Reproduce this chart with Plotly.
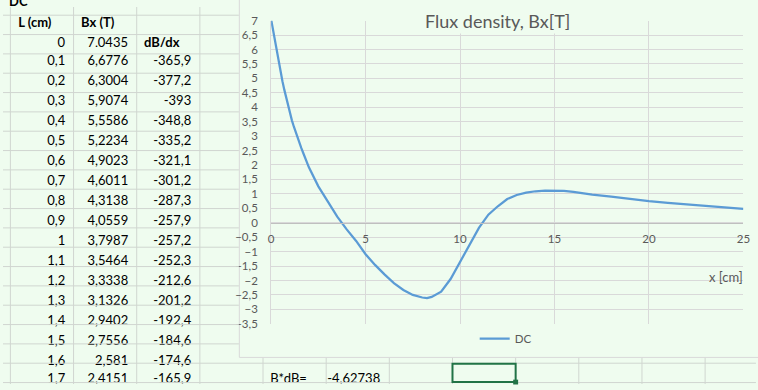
import plotly.graph_objects as go

# ---------------- data ----------------
L_cm = [0, 0.1, 0.2, 0.3, 0.4, 0.5, 0.6, 0.7, 0.8, 0.9, 1.0, 1.1, 1.2, 1.3, 1.4, 1.5, 1.6, 1.7]
Bx_T = [7.0435, 6.6776, 6.3004, 5.9074, 5.5586, 5.2234, 4.9023, 4.6011, 4.3138, 4.0559,
        3.7987, 3.5464, 3.3338, 3.1326, 2.9402, 2.7556, 2.581, 2.4151]
dB_dx = [None, -365.9, -377.2, -393, -348.8, -335.2, -321.1, -301.2, -287.3, -257.9,
         -257.2, -252.3, -212.6, -201.2, -192.4, -184.6, -174.6, -165.9]
B_dB = -4.62738

# curve beyond the table
x_more = [2.0, 2.5, 3.0, 3.5, 4.0, 4.5, 5.0, 5.5, 6.0, 6.5, 7.0, 7.5, 8.0, 8.25, 8.5, 9.0,
          9.5, 10.0, 10.5, 11.0, 11.5, 12.0, 12.5, 13.0, 13.5, 14.0, 14.5, 15.0, 15.5,
          16.0, 17.0, 18.0, 19.0, 20.0, 21.0, 22.0, 23.0, 24.0, 25.0]
B_more = [1.92, 1.26, 0.71, 0.21, -0.23, -0.63, -1.09, -1.46, -1.79, -2.09, -2.33, -2.50,
          -2.59, -2.61, -2.57, -2.39, -1.95, -1.36, -0.75, -0.18, 0.28, 0.57, 0.82, 0.96,
          1.04, 1.09, 1.11, 1.11, 1.10, 1.07, 0.97, 0.90, 0.82, 0.75, 0.69, 0.64, 0.58,
          0.53, 0.48]

series_name = "DC"
chart_title = "Flux density, Bx[T]"
x_title = "x [cm]"
col_heads = ["L (cm)", "Bx (T)", "", ""]
deriv_head = "dB/dx"
prod_label = "B*dB="

# ---------------- styling ----------------
W, H = 758, 390
BG = "#effcef"
GRID = "#d0d6d0"
CGRID = "#d9d9d9"
TXT = "#595959"
FONT = "Lato"
CELLSIZE = 13
BLUE = "#5b9bd5"
S = 6          # lift of the cell text inside the spreadsheet rows
CLEAR = "rgba(0,0,0,0)"
NOLINE = dict(color=CLEAR, width=0)


def fx(p):
    return p / W


def fy(p):
    return 1 - p / H


def fmt(v):
    if v is None:
        return ""
    return ("%g" % v).replace(".", ",")


def cellfont(weight="normal"):
    return dict(family=FONT, size=CELLSIZE, color="black", weight=weight)


LINE = dict(color=GRID, width=1)

fig = go.Figure()

# curve
fig.add_trace(go.Scatter(x=L_cm + x_more, y=Bx_T + B_more, mode="lines", name=series_name,
                         line=dict(color=BLUE, width=2.25), showlegend=True))

# header row + row 0
fig.add_trace(go.Table(
    domain=dict(x=[fx(7.3), fx(239.3)], y=[fy(48 - S), fy(8 - S)]),
    columnwidth=[64, 64, 64, 40],
    header=dict(values=col_heads, height=20, align="left", fill_color=CLEAR, line=NOLINE,
                font=cellfont("bold")),
    cells=dict(values=[[fmt(L_cm[0])], [fmt(Bx_T[0])], [deriv_head], [""]], height=20,
               align=["right", "right", "left", "right"], fill_color=CLEAR, line=NOLINE,
               font=dict(family=FONT, size=CELLSIZE, color="black",
                         weight=["normal", "normal", "bold", "normal"])),
))

# rows 0.1 .. 1.6 (plus an empty spacer row)
rows = range(1, len(L_cm) - 1)
colA = [fmt(L_cm[i]) for i in rows] + [""]
colB = [fmt(Bx_T[i]) for i in rows] + [""]
colC = [fmt(dB_dx[i]) for i in rows] + [""]
fig.add_trace(go.Table(
    domain=dict(x=[fx(7.3), fx(199.3)], y=[fy(388 - S), fy(48 - S)]),
    columnwidth=[64, 64, 64],
    header=dict(values=[colA[0], colB[0], colC[0]], height=20, align="right",
                fill_color=CLEAR, line=NOLINE, font=cellfont()),
    cells=dict(values=[colA[1:], colB[1:], colC[1:]], height=20, align="right",
               fill_color=CLEAR, line=NOLINE, font=cellfont()),
))

# last row: 1.7 and the product cells (columns A..F)
last_vals = [fmt(L_cm[-1]), fmt(Bx_T[-1]), fmt(dB_dx[-1]), "", prod_label, fmt(B_dB)]
fig.add_trace(go.Table(
    domain=dict(x=[fx(7.3), fx(391.3)], y=[0, fy(371)]),
    columnwidth=[64] * 6,
    header=dict(values=last_vals, height=19,
                align=["right", "right", "right", "left", "left", "right"],
                fill_color=CLEAR, line=NOLINE, font=cellfont()),
    cells=dict(values=[[] for _ in last_vals], height=19, fill_color=CLEAR, line=NOLINE),
))

# chart axes
yd = [fy(327.7), fy(14.1)]
fig.update_layout(
    width=W, height=H, autosize=False,
    margin=dict(l=0, r=0, t=0, b=0),
    paper_bgcolor=BG, plot_bgcolor="rgba(0,0,0,0)",
    separators=", ",
    font=dict(family=FONT, size=11.5, color=TXT),
    xaxis=dict(domain=[fx(271.7), fx(750.3)], range=[0, 25], dtick=5, tick0=0,
               showgrid=True, gridcolor=CGRID, gridwidth=1, zeroline=False,
               showline=True, linecolor="#bfbfbf", linewidth=1,
               anchor="free", position=yd[0] + (yd[1] - yd[0]) * 3.5 / 10.5,
               ticks="", ticklabelstandoff=5,
               tickfont=dict(family=FONT, size=11.5, color=TXT), fixedrange=True),
    yaxis=dict(domain=yd, range=[-3.5, 7], dtick=0.5, tick0=0,
               showgrid=True, gridcolor=CGRID, gridwidth=1, zeroline=False,
               showline=True, linecolor=CGRID, linewidth=1,
               ticks="", ticklabelstandoff=10,
               tickfont=dict(family=FONT, size=11.5, color=TXT), fixedrange=True),
    showlegend=True,
    legend=dict(orientation="h", x=fx(478), y=fy(343), xanchor="left", yanchor="middle",
                bgcolor="rgba(0,0,0,0)", font=dict(family=FONT, size=11.5, color=TXT)),
)

shapes = []
# chart area
shapes.append(dict(type="rect", xref="paper", yref="paper", x0=fx(239.5), x1=1.02,
                   y0=fy(362.5), y1=1.02, fillcolor=BG, line=dict(color=CGRID, width=1),
                   layer="below"))
# spreadsheet grid (drawn above the text tables, outside the chart area)
for k in range(20):
    py = 8.5 + 20 * k
    x1 = 239.0 if py < 362 else W + 5
    shapes.append(dict(type="line", xref="paper", yref="paper", x0=0, x1=fx(x1),
                       y0=fy(py), y1=fy(py), line=LINE, layer="above"))
for px in [7.5, 71.5, 135.5, 199.5]:
    shapes.append(dict(type="line", xref="paper", yref="paper", x0=fx(px), x1=fx(px),
                       y0=0, y1=1, line=LINE, layer="above"))
for k in range(8):
    px = 263.5 + 64 * k
    shapes.append(dict(type="line", xref="paper", yref="paper", x0=fx(px), x1=fx(px),
                       y0=0, y1=fy(363), line=LINE, layer="above"))
# selected cell
shapes.append(dict(type="rect", xref="paper", yref="paper", x0=fx(455.5), x1=fx(519.5),
                   y0=fy(388), y1=fy(369), line=dict(color="#217346", width=2),
                   fillcolor="rgba(0,0,0,0)", layer="above"))
shapes.append(dict(type="rect", xref="paper", yref="paper", x0=fx(517), x1=fx(522),
                   y0=fy(390.5), y1=fy(385.5), line=dict(color="#217346", width=0),
                   fillcolor="#217346", layer="above"))
fig.update_layout(shapes=shapes)

fig.add_annotation(text=chart_title, xref="paper", yref="paper", x=fx(501), y=fy(15),
                   xanchor="center", yanchor="middle", showarrow=False, bgcolor=BG,
                   font=dict(family=FONT, size=18, color=TXT))
fig.add_annotation(text=x_title, xref="paper", yref="paper", x=fx(733), y=fy(279),
                   xanchor="center", yanchor="middle", showarrow=False,
                   font=dict(family=FONT, size=13, color=TXT))
fig.add_annotation(text=series_name, xref="paper", yref="paper", x=fx(4),
                   y=fy(4), xanchor="left", yanchor="bottom", showarrow=False,
                   font=dict(family=FONT, size=CELLSIZE, color="black", weight="bold"))

fig.write_html("out.html", config={"displayModeBar": False})
